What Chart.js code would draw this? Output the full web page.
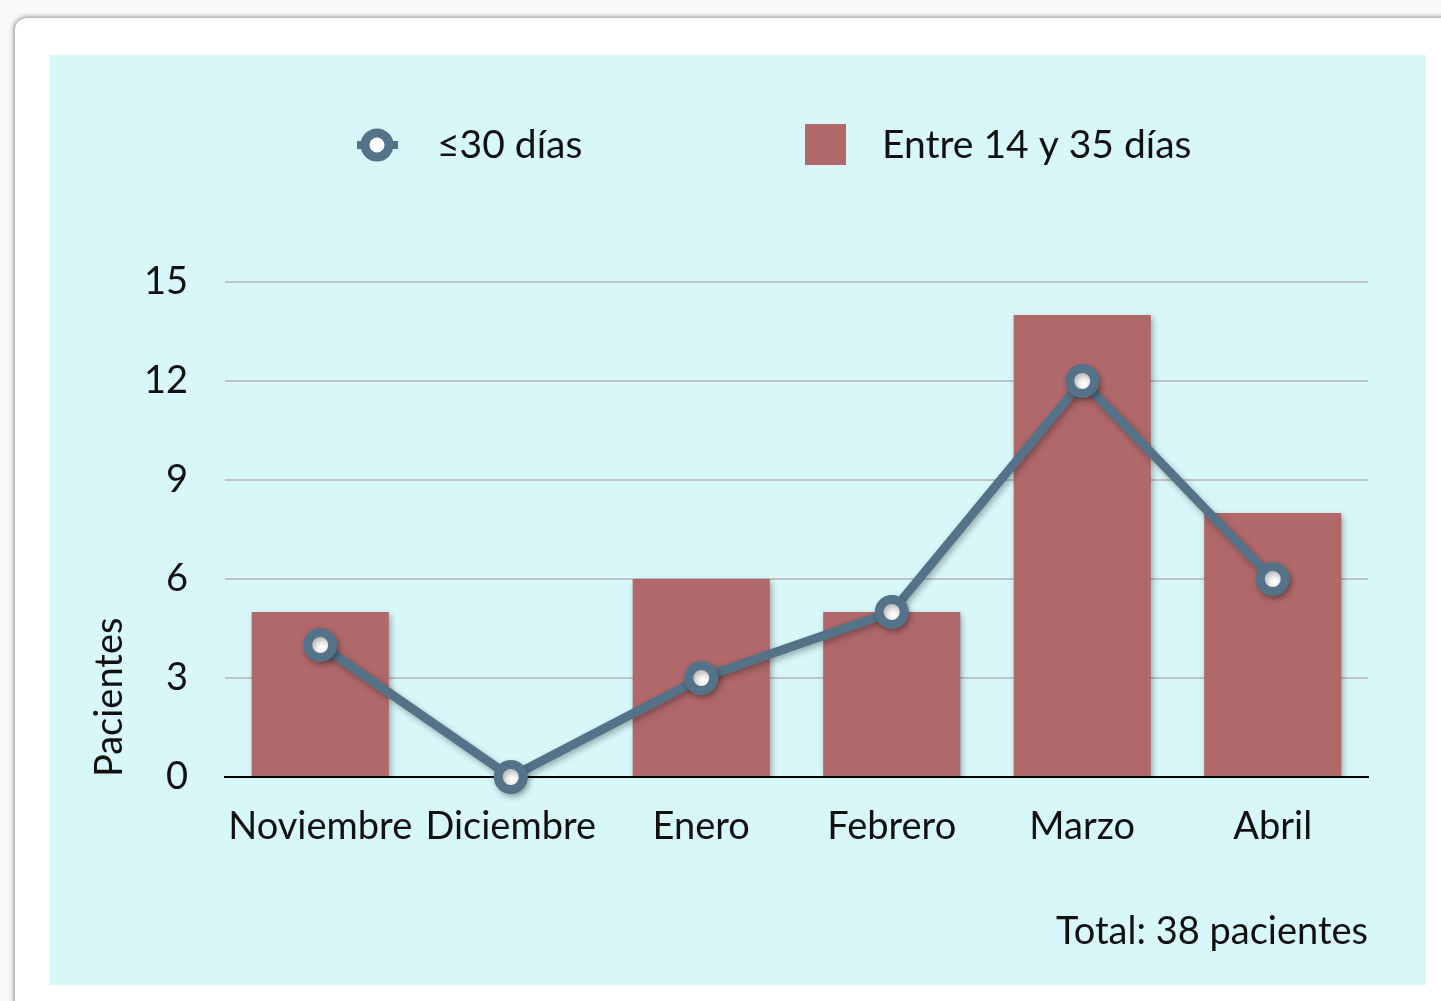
<!DOCTYPE html>
<html>
<head>
<meta charset="utf-8">
<script src="https://cdn.jsdelivr.net/npm/chart.js@4/dist/chart.umd.min.js"></script>
<style>
  html, body { margin: 0; padding: 0; width: 1441px; height: 1001px; overflow: hidden; background: #faf9f7; }
  #card { position: absolute; left: 15px; top: 18px; width: 1460px; height: 1010px; background: #ffffff;
          border-radius: 12px; box-shadow: 0 0 5px 1px rgba(0,0,0,0.45); }
  #panel { position: absolute; left: 50px; top: 55px; width: 1376px; height: 930px; background: #d8f7f9; }
  canvas { display: block; }
</style>
</head>
<body>
<div id="card"></div>
<div id="panel"><canvas id="c" width="1376" height="930"></canvas></div>
<script>
const categories = ['Noviembre', 'Diciembre', 'Enero', 'Febrero', 'Marzo', 'Abril'];
const barLabel = 'Entre 14 y 35 días';
const barValues = [5, 0, 6, 5, 14, 8];
const lineLabel = '≤30 días';
const lineValues = [4, 0, 3, 5, 12, 6];
const yTicks = [0, 3, 6, 9, 12, 15];
const yTitle = 'Pacientes';
const footNote = 'Total: 38 pacientes';

const FONT = 'Lato, "Open Sans", sans-serif';
const FS = 38;
const LINE_COLOR = '#547389';
const BAR_COLOR = '#b0686a';

const shadowPlugin = {
  id: 'shadows',
  beforeDatasetDraw(chart, args) {
    const ctx = chart.ctx;
    ctx.save();
    ctx.shadowColor = 'rgba(0,0,0,0.3)';
    ctx.shadowBlur = 6;
    ctx.shadowOffsetX = 2;
    ctx.shadowOffsetY = 3;
  },
  afterDatasetDraw(chart) { chart.ctx.restore(); }
};

const legendPlugin = {
  id: 'customLegend',
  afterDraw(chart) {
    const ctx = chart.ctx;
    const ds = chart.data.datasets;
    const cy = 90;
    ctx.save();
    // line marker
    ctx.strokeStyle = LINE_COLOR;
    ctx.lineWidth = 8;
    ctx.beginPath(); ctx.moveTo(307, cy); ctx.lineTo(348, cy); ctx.stroke();
    ctx.beginPath(); ctx.arc(327, cy, 12, 0, Math.PI * 2);
    ctx.fillStyle = '#ffffff'; ctx.fill();
    ctx.lineWidth = 9; ctx.stroke();
    // bar marker
    ctx.fillStyle = BAR_COLOR;
    ctx.fillRect(755, cy - 21, 41, 41);
    ctx.fillStyle = '#111';
    ctx.font = '39px ' + FONT;
    ctx.textBaseline = 'middle';
    ctx.textAlign = 'left';
    ctx.fillText(ds[0].label, 387, cy);
    ctx.fillText(ds[1].label, 832, cy);
    ctx.restore();
  }
};

new Chart(document.getElementById('c'), {
  data: {
    labels: categories,
    datasets: [
      {
        type: 'line', label: lineLabel, data: lineValues, order: 1, clip: false,
        borderColor: LINE_COLOR, borderWidth: 9, tension: 0,
        pointRadius: 12.5, pointBorderWidth: 9, pointBackgroundColor: '#ffffff',
        pointBorderColor: LINE_COLOR, pointHoverRadius: 12.5
      },
      {
        type: 'bar', label: barLabel, data: barValues, order: 2,
        backgroundColor: BAR_COLOR, barPercentage: 0.72, categoryPercentage: 1.0
      }
    ]
  },
  plugins: [shadowPlugin, legendPlugin],
  options: {
    responsive: false,
    animation: false,
    events: [],
    layout: { padding: { top: 227, right: 58, left: 0, bottom: 0 } },
    plugins: {
      legend: { display: false },
      tooltip: { enabled: false },
      subtitle: {
        display: true, text: footNote, position: 'bottom', align: 'end',
        color: '#111', font: { family: FONT, size: FS }, padding: { top: 0, bottom: 30 }
      }
    },
    scales: {
      x: {
        grid: { display: false, drawTicks: false },
        border: { display: true, color: '#000', width: 2 },
        ticks: { color: '#111', font: { family: FONT, size: FS }, padding: 27, maxRotation: 0, autoSkip: false },
        afterFit(s) { s.height = 132.4; }
      },
      y: {
        min: 0, max: 15,
        afterBuildTicks(s) { s.ticks = yTicks.map(v => ({ value: v })); },
        grid: {
          drawTicks: false, lineWidth: 2,
          color: (c) => (c.tick && c.tick.value === 0 ? '#000' : '#bfc3c4')
        },
        border: { display: false },
        ticks: { color: '#111', font: { family: FONT, size: FS }, padding: 37 },
        title: {
          display: true, text: yTitle, align: 'start', color: '#111',
          font: { family: FONT, size: FS }, padding: { top: 37, bottom: 0 }
        },
        afterFit(s) { s.width = 175; }
      }
    }
  }
});
</script>
</body>
</html>
